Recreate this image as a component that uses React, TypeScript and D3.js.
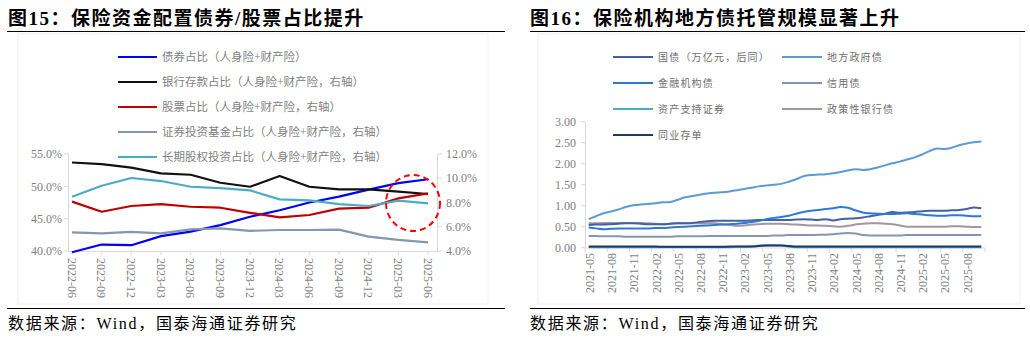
import React from 'react';
import * as d3 from 'd3';

// ---------- Left chart data ----------
const leftDates = ['2022-06','2022-09','2022-12','2023-03','2023-06','2023-09','2023-12','2024-03','2024-06','2024-09','2024-12','2025-03','2025-06'];
const bondShare = [39.8, 41.0, 40.9, 42.3, 43.0, 44.0, 45.3, 46.3, 47.5, 48.4, 49.5, 50.5, 51.1];
const depositShare = [11.3, 11.17, 10.87, 10.4, 10.29, 9.63, 9.3, 10.18, 9.3, 9.08, 9.08, 8.89, 8.7];
const stockShare = [8.07, 7.24, 7.71, 7.87, 7.65, 7.57, 7.15, 6.77, 6.97, 7.49, 7.57, 8.34, 8.75];
const fundShare = [5.54, 5.46, 5.57, 5.46, 5.79, 5.87, 5.66, 5.73, 5.73, 5.76, 5.18, 4.91, 4.71];
const equityShare = [8.48, 9.38, 10.02, 9.77, 9.3, 9.19, 9.0, 8.26, 8.18, 7.87, 7.71, 8.15, 7.93];
const leftTicks = [40, 45, 50, 55];
const rightTicks = [4, 6, 8, 10, 12];
const leftLegend = [
  '债券占比（人身险+财产险）',
  '银行存款占比（人身险+财产险，右轴）',
  '股票占比（人身险+财产险，右轴）',
  '证券投资基金占比（人身险+财产险，右轴）',
  '长期股权投资占比（人身险+财产险，右轴）',
];

// ---------- Right chart data ----------
const months = [
  '2021-05','2021-06','2021-07','2021-08','2021-09','2021-10','2021-11','2021-12',
  '2022-01','2022-02','2022-03','2022-04','2022-05','2022-06','2022-07','2022-08','2022-09','2022-10','2022-11','2022-12',
  '2023-01','2023-02','2023-03','2023-04','2023-05','2023-06','2023-07','2023-08','2023-09','2023-10','2023-11','2023-12',
  '2024-01','2024-02','2024-03','2024-04','2024-05','2024-06','2024-07','2024-08','2024-09','2024-10','2024-11','2024-12',
  '2025-01','2025-02','2025-03','2025-04','2025-05','2025-06','2025-07','2025-08','2025-09','2025-10',
];
const govBond = [0.54,0.55,0.55,0.56,0.57,0.58,0.58,0.57,0.56,0.56,0.56,0.57,0.58,0.58,0.59,0.61,0.63,0.64,0.64,0.64,0.64,0.64,0.65,0.66,0.66,0.66,0.66,0.66,0.67,0.68,0.67,0.66,0.68,0.65,0.68,0.69,0.70,0.72,0.75,0.78,0.81,0.85,0.83,0.84,0.85,0.87,0.88,0.88,0.88,0.89,0.90,0.92,0.96,0.94];
const localBond = [0.68,0.75,0.82,0.86,0.91,0.97,1.01,1.03,1.04,1.06,1.08,1.09,1.14,1.20,1.23,1.26,1.29,1.31,1.32,1.34,1.37,1.40,1.43,1.46,1.48,1.50,1.52,1.57,1.63,1.70,1.73,1.74,1.75,1.77,1.80,1.84,1.87,1.85,1.87,1.91,1.96,2.01,2.05,2.10,2.15,2.22,2.30,2.36,2.35,2.38,2.44,2.48,2.51,2.53];
const finBond = [0.48,0.46,0.44,0.45,0.46,0.46,0.46,0.46,0.46,0.47,0.47,0.48,0.49,0.50,0.51,0.52,0.53,0.54,0.55,0.56,0.57,0.59,0.61,0.64,0.68,0.71,0.73,0.76,0.81,0.85,0.88,0.90,0.92,0.94,0.97,0.95,0.89,0.84,0.82,0.81,0.80,0.80,0.81,0.82,0.80,0.79,0.77,0.76,0.76,0.77,0.77,0.76,0.75,0.75];
const creditBond = [0.28,0.28,0.27,0.27,0.27,0.26,0.26,0.26,0.26,0.26,0.26,0.26,0.27,0.27,0.27,0.27,0.28,0.28,0.28,0.28,0.28,0.28,0.28,0.28,0.28,0.29,0.29,0.30,0.30,0.30,0.30,0.31,0.31,0.32,0.34,0.35,0.34,0.30,0.29,0.29,0.29,0.29,0.29,0.30,0.30,0.30,0.30,0.30,0.30,0.30,0.30,0.30,0.30,0.30];
const absBond = [0.01,0.01,0.01,0.01,0.01,0.01,0.01,0.01,0.01,0.01,0.01,0.01,0.01,0.01,0.01,0.01,0.01,0.01,0.01,0.01,0.02,0.02,0.03,0.05,0.06,0.06,0.05,0.03,0.01,0.01,0.01,0.01,0.01,0.01,0.01,0.01,0.01,0.01,0.01,0.01,0.01,0.01,0.01,0.01,0.01,0.01,0.01,0.01,0.01,0.01,0.01,0.01,0.01,0.01];
const policyBond = [0.58,0.58,0.59,0.59,0.59,0.59,0.59,0.59,0.58,0.57,0.56,0.57,0.58,0.58,0.58,0.58,0.58,0.58,0.56,0.54,0.52,0.53,0.55,0.56,0.57,0.57,0.57,0.56,0.55,0.54,0.53,0.53,0.52,0.51,0.50,0.52,0.55,0.57,0.58,0.58,0.57,0.56,0.53,0.50,0.50,0.50,0.50,0.50,0.50,0.51,0.51,0.50,0.49,0.49];
const ncd = [0.03,0.03,0.03,0.03,0.03,0.03,0.03,0.03,0.03,0.03,0.02,0.02,0.02,0.02,0.02,0.02,0.02,0.02,0.02,0.03,0.03,0.03,0.03,0.04,0.05,0.05,0.05,0.04,0.03,0.03,0.03,0.03,0.03,0.03,0.03,0.03,0.03,0.03,0.03,0.03,0.03,0.03,0.03,0.03,0.03,0.03,0.03,0.03,0.03,0.03,0.03,0.03,0.03,0.03];
const rYTicks = [0, 0.5, 1, 1.5, 2, 2.5, 3];
const rightLegend = ['国债（万亿元，后同）','地方政府债','金融机构债','信用债','资产支持证券','政策性银行债','同业存单'];

const SERIF = "'Liberation Serif', 'Times New Roman', 'Noto Sans CJK SC', serif";
const CJK = "'Liberation Serif', 'Noto Sans CJK SC', sans-serif";
const GRAY = '#7f7f7f';
const AXIS = '#d9d9d9';

function LeftChart() {
  const x = d3.scalePoint<string>().domain(leftDates).range([72, 428]);
  const yl = d3.scaleLinear().domain([40, 55]).range([251, 154]);
  const yr = d3.scaleLinear().domain([4, 12]).range([251, 154]);
  const series = [
    { v: bondShare, y: yl, c: '#0000ff' },
    { v: depositShare, y: yr, c: '#111111' },
    { v: stockShare, y: yr, c: '#c00000' },
    { v: fundShare, y: yr, c: '#8497b0' },
    { v: equityShare, y: yr, c: '#4bacc6' },
  ];
  const legendColors = ['#0000ff', '#111111', '#c00000', '#8497b0', '#4bacc6'];
  return (
    <g>
      <rect x={18} y={34} width={470} height={270} fill="none" stroke="#f0f0f0" />
      <text x={8} y={24.5} fontSize={19} letterSpacing={1.5} fontWeight="bold" fontFamily={CJK} fill="#000">图15：保险资金配置债券/股票占比提升</text>
      <line x1={7} x2={505} y1={31.5} y2={31.5} stroke="#000" strokeWidth={1.2} />
      {/* axes */}
      <line x1={68.5} x2={68.5} y1={154} y2={251} stroke={AXIS} />
      <line x1={437.5} x2={437.5} y1={154} y2={251} stroke={AXIS} />
      <line x1={68} x2={438} y1={251.5} y2={251.5} stroke={AXIS} />
      {leftTicks.map(t => (
        <g key={t}>
          <line x1={64} x2={68} y1={yl(t)} y2={yl(t)} stroke={AXIS} />
          <text x={62} y={yl(t)} dy="0.35em" textAnchor="end" fontSize={12} fontFamily={SERIF} fill={GRAY}>{t.toFixed(1)}%</text>
        </g>
      ))}
      {rightTicks.map(t => (
        <g key={t}>
          <line x1={438} x2={442} y1={yr(t)} y2={yr(t)} stroke={AXIS} />
          <text x={446} y={yr(t)} dy="0.35em" textAnchor="start" fontSize={12} fontFamily={SERIF} fill={GRAY}>{t.toFixed(1)}%</text>
        </g>
      ))}
      {leftDates.map(d => (
        <g key={d}>
          <line x1={x(d)} x2={x(d)} y1={251} y2={255} stroke={AXIS} />
          <text transform={`translate(${x(d)},258) rotate(90)`} dy="0.35em" textAnchor="start" fontSize={12} fontFamily={SERIF} fill={GRAY}>{d}</text>
        </g>
      ))}
      {series.map((s, i) => {
        const line = d3.line<number>().x((_, j) => x(leftDates[j]) as number).y(v => s.y(v));
        return <path key={i} d={line(s.v) || ''} fill="none" stroke={s.c} strokeWidth={2.2} strokeLinejoin="round" />;
      })}
      {leftLegend.map((t, i) => (
        <g key={t}>
          <line x1={118} x2={157} y1={57 + i * 25} y2={57 + i * 25} stroke={legendColors[i]} strokeWidth={2.2} />
          <text x={162} y={57 + i * 25} dy="0.35em" fontSize={11.5} fontFamily={CJK} fill={GRAY}>{t}</text>
        </g>
      ))}
      <ellipse cx={413} cy={203} rx={27} ry={28} fill="none" stroke="#ff0000" strokeWidth={2} strokeDasharray="6,4" />
      <line x1={7} x2={505} y1={308.5} y2={308.5} stroke="#000" strokeWidth={1.2} />
      <text x={8} y={329} fontSize={16} letterSpacing={1.7} fontFamily={CJK} fill="#000">数据来源：Wind，国泰海通证券研究</text>
    </g>
  );
}

function RightChart() {
  const x = d3.scaleBand<string>().domain(months).range([585, 985]);
  const bw = x.bandwidth();
  const y = d3.scaleLinear().domain([0, 3]).range([247.7, 121.7]);
  const series = [
    { v: absBond, c: '#4bacc6' },
    { v: ncd, c: '#1f3864' },
    { v: creditBond, c: '#8497b0' },
    { v: policyBond, c: '#a6949f' },
    { v: govBond, c: '#4061a8' },
    { v: finBond, c: '#2f78d4' },
    { v: localBond, c: '#5b9bd5' },
  ];
  const legendColors = ['#4061a8', '#5b9bd5', '#2f78d4', '#8497b0', '#4bacc6', '#a6949f', '#1f3864'];
  const tickIdx = d3.range(0, months.length + 1, 3);
  const labelIdx = d3.range(0, months.length, 3);
  return (
    <g>
      <rect x={538} y={34} width={482} height={270} fill="none" stroke="#f0f0f0" />
      <text x={530} y={24.5} fontSize={19} letterSpacing={1.5} fontWeight="bold" fontFamily={CJK} fill="#000">图16：保险机构地方债托管规模显著上升</text>
      <line x1={530} x2={1025} y1={31.5} y2={31.5} stroke="#000" strokeWidth={1.2} />
      <line x1={585.5} x2={585.5} y1={121.7} y2={247.7} stroke={AXIS} />
      <line x1={585} x2={985} y1={248} y2={248} stroke={AXIS} />
      {rYTicks.map(t => (
        <g key={t}>
          <line x1={581} x2={585} y1={y(t)} y2={y(t)} stroke={AXIS} />
          <text x={576} y={y(t)} dy="0.35em" textAnchor="end" fontSize={12} fontFamily={SERIF} fill={GRAY}>{t.toFixed(2)}</text>
        </g>
      ))}
      {tickIdx.map(i => {
        const xx = i < months.length ? (x(months[i]) as number) : 985;
        return <line key={i} x1={xx} x2={xx} y1={248} y2={252} stroke={AXIS} />;
      })}
      {labelIdx.map(i => (
        <text key={i} transform={`translate(${(x(months[i]) as number) + bw / 2 + 1},253) rotate(-90)`} dy="0.35em" textAnchor="end" fontSize={12} fontFamily={SERIF} fill={GRAY}>{months[i]}</text>
      ))}
      {series.map((s, i) => {
        const line = d3.line<number>().x((_, j) => (x(months[j]) as number) + bw / 2).y(v => y(v)).curve(d3.curveMonotoneX);
        return <path key={i} d={line(s.v) || ''} fill="none" stroke={s.c} strokeWidth={2} strokeLinejoin="round" />;
      })}
      {rightLegend.map((t, i) => {
        const col = i % 2;
        const row = Math.floor(i / 2);
        const lx = col === 0 ? 613 : 782;
        const ly = 57 + row * 26;
        return (
          <g key={t}>
            <line x1={lx} x2={lx + 40} y1={ly} y2={ly} stroke={legendColors[i]} strokeWidth={2.2} />
            <text x={lx + 45} y={ly} dy="0.35em" fontSize={10} letterSpacing={1.2} fontFamily={CJK} fill="#6e6e6e">{t}</text>
          </g>
        );
      })}
      <line x1={530} x2={1025} y1={308.5} y2={308.5} stroke="#000" strokeWidth={1.2} />
      <text x={530} y={329} fontSize={16} letterSpacing={1.7} fontFamily={CJK} fill="#000">数据来源：Wind，国泰海通证券研究</text>
    </g>
  );
}

export default function App() {
  return (
    <svg width={1030} height={342} viewBox="0 0 1030 342" style={{ position: 'absolute', left: 0, top: 0, background: '#fff' }}>
      <rect x={0} y={0} width={1030} height={342} fill="#fff" />
      <LeftChart />
      <RightChart />
    </svg>
  );
}
